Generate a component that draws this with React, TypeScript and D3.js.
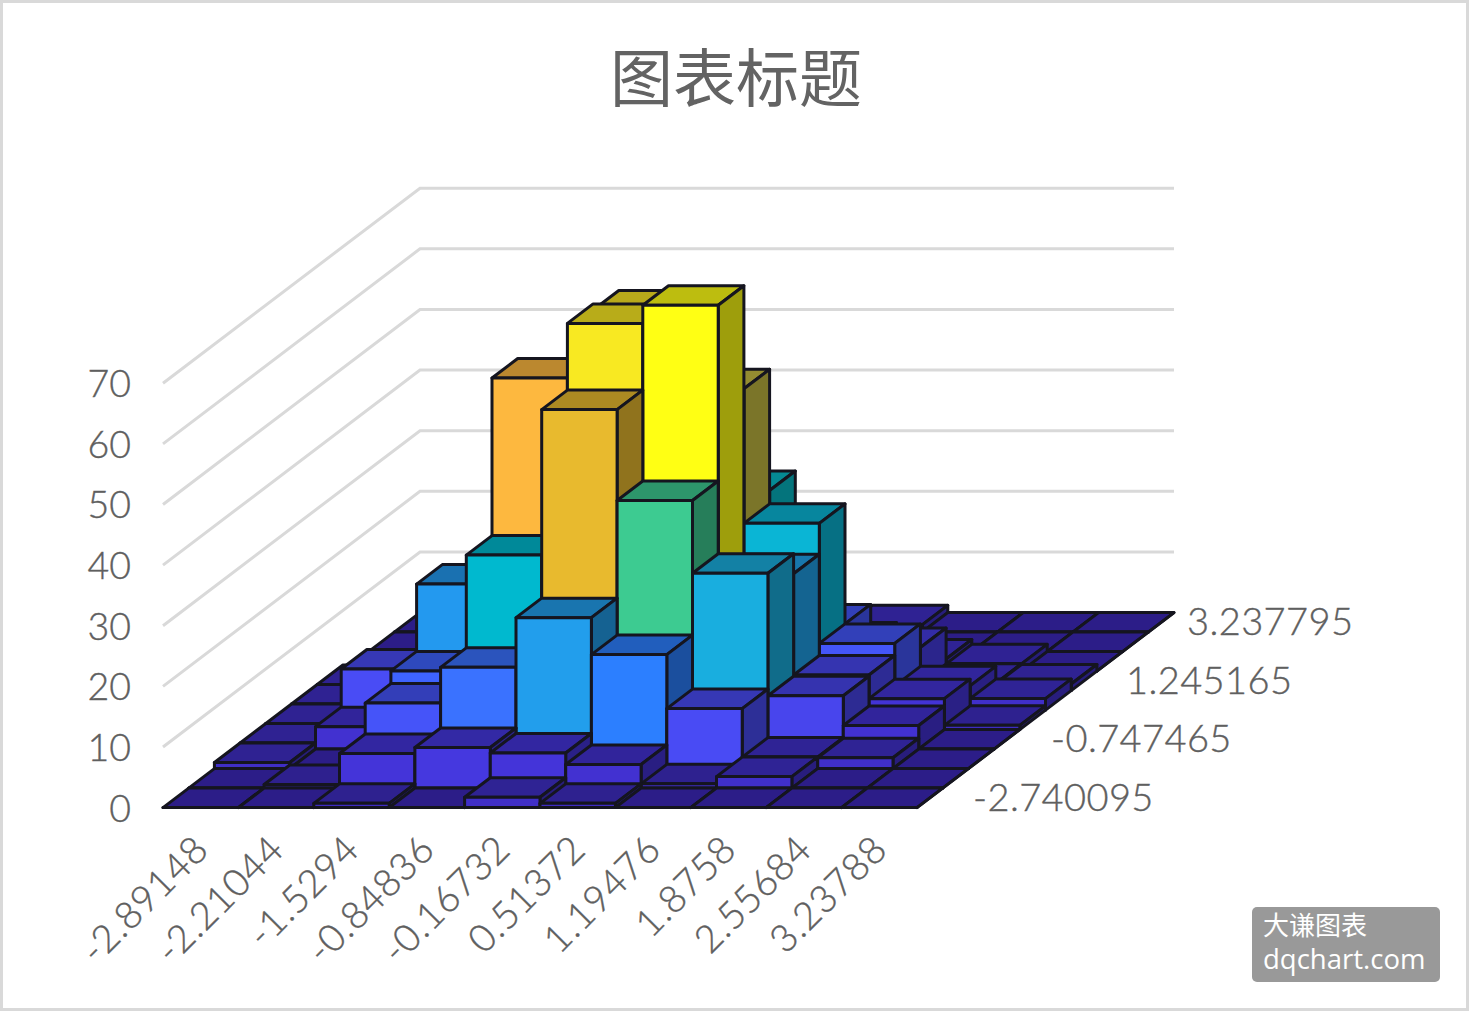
import React from "react";
import * as d3 from "d3";

const title = "图表标题";
const xLabels = ["-2.89148","-2.21044","-1.5294","-0.84836","-0.16732","0.51372","1.19476","1.8758","2.55684","3.23788"];
const depthLabels = ["-2.740095","","","-0.747465","","","1.245165","","","3.237795"];
const depthLabelStart = [973,0,0,1051,0,0,1126,0,0,1187];
const valueTicks = [0,10,20,30,40,50,60,70];
const row0 = [0,0,0.7,0,1.7,0.7,0,0,0,0];
const row1 = [0,0.6,5.7,6.7,5.8,3.9,0.7,1.9,0,0];
const row2 = [1,0,10.8,16.7,24.9,18.8,9.9,1.9,1.8,0];
const row3 = [1,3.7,12.9,32,56,41,29,8.8,3.9,0];
const row4 = [1,10,24,58,67,70,25.7,9,5.1,0.7];
const row5 = [1,1.5,8,20,66,53,30.8,11,4,1.9];
const row6 = [1,1,2,6,12,33,11,7.1,1.2,1.1];
const row7 = [0,1,1,2,4,6,4.8,2,1.2,0];
const row8 = [0,0,1,1,1,2,1,0,0,0];
const row9 = [0,0,0,0,0,0,1.2,0,0,0];
const rows = [row0,row1,row2,row3,row4,row5,row6,row7,row8,row9];

const colorStops = ["#3c27b8","#3f2ec5","#4434da","#494cf5","#3f5fff","#3a73ff","#2a80ff","#229eec","#19aedf","#00b9cf","#3dcb91","#e8ba2e","#fdb83f","#f8e922","#ffff14"];
const colorDomain = [0,1,6,10,12,17,19,25,29,32,41,56,58,67,70];

const x = d3.scaleLinear().domain([0,10]).range([163,917]);
const depthX = d3.scaleLinear().domain([0,10]).range([0,257]);
const depthY = d3.scaleLinear().domain([0,10]).range([0,-195]);
const val = d3.scaleLinear().domain([0,70]).range([0,-424.4]);
const color = d3.scaleLinear<string>().domain(colorDomain).range(colorStops).interpolate(d3.interpolateRgb);
const BASE = 807.6;
const shade = (c: string, k: number) => {
  const o = d3.rgb(c);
  return d3.rgb(o.r*k,o.g*k,o.b*k).formatHex();
};
const pt = (col: number, r: number, h: number): [number, number] => [x(col)+depthX(r), BASE+depthY(r)+val(h)];
const poly = (p: [number,number][]) => d3.line()(p)+"Z";
const STROKE = "#15151f";
const font = "'Lato','Noto Sans CJK SC',sans-serif";
const LABEL = "#5f5f5f";

export default function App() {
  const bars: React.ReactNode[] = [];
  for (let r = 9; r >= 0; r--) {
    for (let c = 0; c < 10; c++) {
      const h = rows[r][c];
      const col = color(h);
      const key = r+"-"+c;
      bars.push(
        <g key={key} stroke={STROKE} strokeWidth={3} strokeLinejoin="round">
          <path d={poly([pt(c,r,h),pt(c+1,r,h),pt(c+1,r+1,h),pt(c,r+1,h)])} fill={shade(col,0.74)} />
          <path d={poly([pt(c+1,r,0),pt(c+1,r+1,0),pt(c+1,r+1,h),pt(c+1,r,h)])} fill={shade(col,0.62)} />
          <path d={poly([pt(c,r,0),pt(c+1,r,0),pt(c+1,r,h),pt(c,r,h)])} fill={col} />
        </g>
      );
    }
  }
  const labelStyle = {fill: LABEL, stroke: LABEL, strokeWidth: 0.4, fontWeight: 300} as const;
  return (
    <svg width={1469} height={1011} style={{position:"absolute",left:0,top:0,background:"#fff"}} fontFamily={font}>
      <rect x={1.5} y={1.5} width={1466} height={1008} fill="#fff" stroke="#d9d9d9" strokeWidth={3} />
      <text x={736} y={101} textAnchor="middle" fontSize={63} fill="#636363" fontFamily="'Noto Sans CJK SC',sans-serif" fontWeight={400}>{title}</text>
      {valueTicks.map(v => {
        const a = pt(0,0,v), b = pt(0,10,v), e = pt(10,10,v);
        return (
          <g key={v}>
            {v>0 && <path d={d3.line()([a,b,e])!} fill="none" stroke="#d9d9d9" strokeWidth={3} />}
            <text x={131} y={a[1]+14} textAnchor="end" fontSize={37.5} style={labelStyle}>{v}</text>
          </g>
        );
      })}
      {bars}
      {xLabels.map((l,i) => {
        const px = x(i+0.5)+10, py = BASE+44;
        return <text key={l} transform={`translate(${px},${py}) rotate(-45)`} textAnchor="end" fontSize={38} letterSpacing={0.8} style={labelStyle}>{l}</text>;
      })}
      {depthLabels.map((l,i) => {
        if (!l) return null;
        const p = pt(10,i+0.5,0);
        return <text key={l} x={depthLabelStart[i]} y={p[1]+13} fontSize={38} letterSpacing={0.4} style={labelStyle}>{l}</text>;
      })}
      <rect x={1252} y={907} width={188} height={75} rx={5} fill="#999999" />
      <text x={1263} y={935} fontSize={26} fill="#fff" fontFamily="'Noto Sans CJK SC',sans-serif">大谦图表</text>
      <text x={1263} y={969} fontSize={27.5} fill="#fff" fontFamily="'Open Sans',sans-serif">dqchart.com</text>
    </svg>
  );
}
